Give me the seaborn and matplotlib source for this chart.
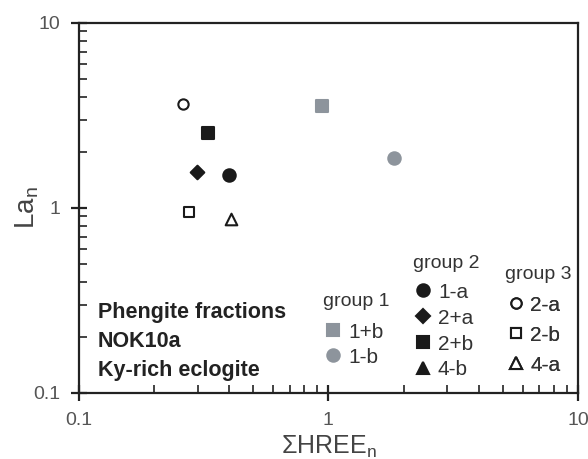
import numpy as np
import pandas as pd
import matplotlib
matplotlib.use("Agg")
import matplotlib.pyplot as plt
import seaborn as sns
from matplotlib.lines import Line2D
from matplotlib.ticker import LogLocator, NullFormatter, FixedLocator, FixedFormatter

# data
samples = ["2-a", "2+b", "2+a", "1-a", "2-b", "4-a", "1+b", "1-b"]
hree_n = [0.261, 0.329, 0.297, 0.399, 0.276, 0.407, 0.942, 1.83]
la_n = [3.65, 2.54, 1.57, 1.51, 0.95, 0.873, 3.56, 1.86]

groups = {
    "group 1": ["1+b", "1-b"],
    "group 2": ["1-a", "2+a", "2+b", "4-b"],
    "group 3": ["2-a", "2-b", "4-a"],
}

grey = "#8d949c"
black = "#1a1a1a"
style = {
    "1+b": dict(marker="s", face=grey, edge=grey, size=68),
    "1-b": dict(marker="o", face=grey, edge=grey, size=80),
    "1-a": dict(marker="o", face=black, edge=black, size=80),
    "2+a": dict(marker="D", face=black, edge=black, size=48),
    "2+b": dict(marker="s", face=black, edge=black, size=68),
    "4-b": dict(marker="^", face=black, edge=black, size=80),
    "2-a": dict(marker="o", face="white", edge=black, size=55),
    "2-b": dict(marker="s", face="white", edge=black, size=55),
    "4-a": dict(marker="^", face="white", edge=black, size=70),
}

df = pd.DataFrame({"sample": samples, "HREE": hree_n, "La": la_n})

sns.set_style("ticks")
plt.rcParams["font.family"] = ["Liberation Sans", "DejaVu Sans"]

fig = plt.figure(figsize=(5.88, 4.59), dpi=100)
ax = fig.add_axes([0.134, 0.144, 0.849, 0.806])

for name, sub in df.groupby("sample"):
    st = style[name]
    sns.scatterplot(data=sub, x="HREE", y="La", ax=ax, marker=st["marker"],
                    color=st["face"], edgecolor=st["edge"], linewidth=1.5,
                    s=st["size"], legend=False, zorder=3)

ax.set_xscale("log")
ax.set_yscale("log")
ax.set_xlim(0.1, 10)
ax.set_ylim(0.1, 10)

for spine in ax.spines.values():
    spine.set_linewidth(1.6)
    spine.set_color("#222222")

ax.xaxis.set_major_locator(FixedLocator([0.1, 1, 10]))
ax.xaxis.set_major_formatter(FixedFormatter(["0.1", "1", "10"]))
ax.yaxis.set_major_locator(FixedLocator([0.1, 1, 10]))
ax.yaxis.set_major_formatter(FixedFormatter(["0.1", "1", "10"]))
ax.xaxis.set_minor_locator(LogLocator(base=10, subs=np.arange(2, 10)))
ax.yaxis.set_minor_locator(LogLocator(base=10, subs=np.arange(2, 10)))
ax.xaxis.set_minor_formatter(NullFormatter())
ax.yaxis.set_minor_formatter(NullFormatter())
ax.tick_params(which="major", direction="inout", length=11, width=1.6,
               labelsize=14, labelcolor="#555555", color="#222222", pad=8)
ax.tick_params(which="minor", direction="in", length=6, width=1.2, color="#222222")
ax.tick_params(top=False, right=False, which="both")

ax.set_xlabel("ΣHREE$_\\mathregular{n}$", fontsize=18, color="#444444", labelpad=4)
ax.set_ylabel("La$_\\mathregular{n}$", fontsize=20, color="#444444", labelpad=-6)

ax.text(0.038, 0.245, "Phengite fractions\nNOK10a\nKy-rich eclogite",
        transform=ax.transAxes, fontsize=15.5, fontweight="bold",
        color="#222222", va="top", ha="left", linespacing=1.5)

# legend titles placed as text, entries as separate legends
title_pos = {"group 1": (0.489, 0.246), "group 2": (0.669, 0.351), "group 3": (0.854, 0.319)}
anchors = {"group 1": (0.481, 0.201), "group 2": (0.661, 0.309), "group 3": (0.846, 0.274)}
spacing = {"group 1": 0.29, "group 2": 0.33, "group 3": 0.53}
for g, members in groups.items():
    ax.text(title_pos[g][0], title_pos[g][1], g, transform=ax.transAxes,
            fontsize=14, color="#333333", ha="left", va="center")
    handles = []
    for m in members:
        st = style[m]
        handles.append(Line2D([], [], linestyle="none", marker=st["marker"],
                              markerfacecolor=st["face"], markeredgecolor=st["edge"],
                              markeredgewidth=1.5, markersize=np.sqrt(st["size"])))
    leg = ax.legend(handles, members, loc="upper left",
                    bbox_to_anchor=anchors[g], frameon=False, fontsize=15,
                    handletextpad=0.2, labelspacing=spacing[g],
                    handlelength=1.0, borderpad=0.2, borderaxespad=0)
    for t in leg.get_texts():
        t.set_color("#333333")
    ax.add_artist(leg)

fig.savefig("out.png", dpi=100)
